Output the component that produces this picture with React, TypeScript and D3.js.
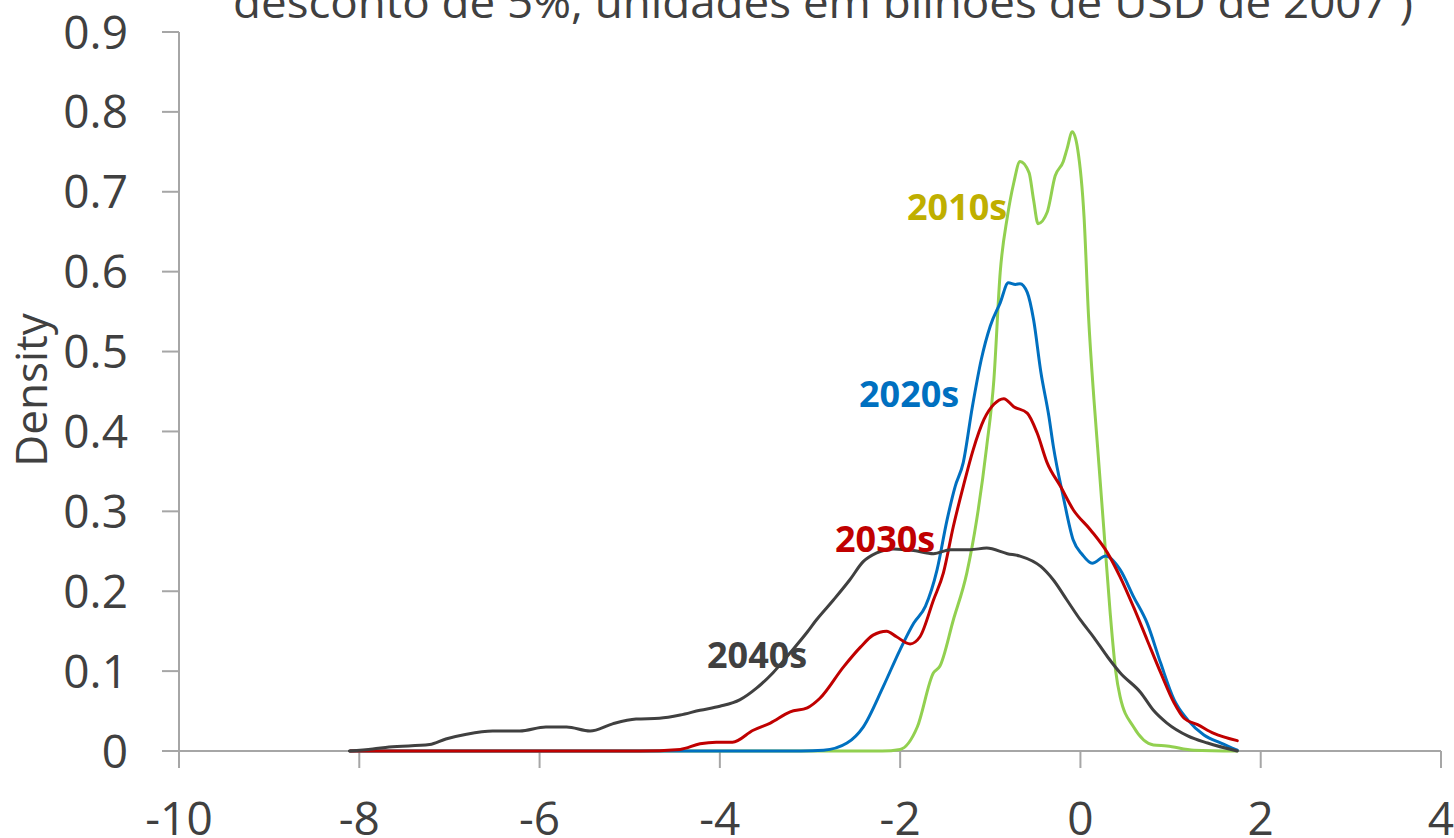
import React from "react";
import * as d3 from "d3";

const W = 1454;
const H = 838;

const titleText = "desconto de 5%, unidades em bilhões de USD de 2007 )";
const yLabel = "Density";
const xTicks = [-10, -8, -6, -4, -2, 0, 2, 4];
const yTicks = [0, 0.1, 0.2, 0.3, 0.4, 0.5, 0.6, 0.7, 0.8, 0.9];

const x2010s = [-8.1, -2.9, -2.2, -2.0, -1.81, -1.63, -1.56, -1.41, -1.26, -1.15, -1.04, -0.96, -0.89, -0.81, -0.74, -0.67, -0.57, -0.52, -0.47, -0.37, -0.28, -0.19, -0.15, -0.09, -0.03, 0.04, 0.09, 0.15, 0.19, 0.26, 0.33, 0.39, 0.44, 0.59, 0.81, 0.96, 1.26, 1.74];
const y2010s = [0, 0, 0, 0.002, 0.03, 0.098, 0.106, 0.164, 0.223, 0.29, 0.381, 0.465, 0.599, 0.669, 0.711, 0.738, 0.724, 0.69, 0.66, 0.674, 0.72, 0.738, 0.753, 0.775, 0.753, 0.669, 0.544, 0.44, 0.381, 0.277, 0.173, 0.101, 0.068, 0.03, 0.0075, 0.0063, 0.001, 0];

const x2020s = [-8.1, -3.1, -2.85, -2.59, -2.41, -2.19, -2.0, -1.85, -1.72, -1.59, -1.48, -1.39, -1.3, -1.2, -1.1, -1.0, -0.89, -0.8, -0.72, -0.67, -0.59, -0.52, -0.44, -0.35, -0.3, -0.19, -0.08, 0.02, 0.13, 0.28, 0.44, 0.59, 0.74, 0.89, 1.04, 1.19, 1.37, 1.56, 1.74];
const y2020s = [0, 0, 0.001, 0.01, 0.03, 0.08, 0.127, 0.16, 0.181, 0.227, 0.289, 0.331, 0.361, 0.43, 0.49, 0.532, 0.561, 0.586, 0.584, 0.585, 0.574, 0.54, 0.475, 0.419, 0.381, 0.318, 0.264, 0.246, 0.235, 0.244, 0.227, 0.193, 0.16, 0.11, 0.064, 0.039, 0.02, 0.01, 0.001];

const x2030s = [-8.1, -4.89, -4.44, -4.22, -4.04, -3.86, -3.63, -3.44, -3.22, -3.03, -2.89, -2.63, -2.44, -2.3, -2.15, -2.04, -1.89, -1.78, -1.63, -1.52, -1.41, -1.3, -1.19, -1.07, -0.96, -0.85, -0.74, -0.59, -0.48, -0.37, -0.22, -0.08, 0.11, 0.3, 0.44, 0.59, 0.74, 0.89, 1.04, 1.15, 1.3, 1.48, 1.74];
const y2030s = [0, 0, 0.002, 0.009, 0.011, 0.011, 0.026, 0.035, 0.049, 0.054, 0.066, 0.105, 0.13, 0.145, 0.15, 0.143, 0.134, 0.143, 0.189, 0.223, 0.281, 0.331, 0.377, 0.415, 0.434, 0.441, 0.431, 0.423, 0.398, 0.361, 0.331, 0.302, 0.277, 0.248, 0.218, 0.18, 0.139, 0.098, 0.06, 0.041, 0.033, 0.022, 0.013];

const x2040s = [-8.11, -7.85, -7.67, -7.22, -7.04, -6.81, -6.52, -6.22, -5.93, -5.7, -5.44, -5.19, -4.93, -4.67, -4.44, -4.22, -4.0, -3.78, -3.59, -3.41, -3.22, -3.03, -2.93, -2.74, -2.56, -2.41, -2.26, -2.07, -1.85, -1.63, -1.44, -1.22, -1.04, -0.81, -0.67, -0.44, -0.3, -0.15, 0.0, 0.15, 0.3, 0.44, 0.67, 0.81, 0.96, 1.19, 1.41, 1.74];
const y2040s = [0, 0.0025, 0.005, 0.008, 0.015, 0.021, 0.025, 0.025, 0.03, 0.03, 0.025, 0.034, 0.04, 0.041, 0.045, 0.051, 0.056, 0.064, 0.079, 0.098, 0.123, 0.149, 0.164, 0.189, 0.214, 0.237, 0.248, 0.253, 0.251, 0.247, 0.252, 0.252, 0.254, 0.247, 0.244, 0.231, 0.214, 0.189, 0.164, 0.142, 0.118, 0.098, 0.073, 0.051, 0.035, 0.019, 0.01, 0];

const seriesNames = ["2010s", "2020s", "2030s", "2040s"];
const seriesX = [x2010s, x2020s, x2030s, x2040s];
const seriesY = [y2010s, y2020s, y2030s, y2040s];
const lineColors = ["#92D050", "#0070C0", "#C00000", "#404040"];
const labelColors = ["#BFAF00", "#0070C0", "#C00000", "#404040"];
const labelPos = [
  { x: 907, y: 220 },
  { x: 859, y: 407 },
  { x: 835, y: 552 },
  { x: 707, y: 668 },
];

const FONT = "'Open Sans', 'Noto Sans', sans-serif";
const TEXT = "#404040";
const AXIS = "#A6A6A6";

export default function App() {
  const x = d3.scaleLinear().domain([-10, 4]).range([179, 1441]);
  const y = d3.scaleLinear().domain([0, 0.9]).range([751, 32]);

  const line = d3
    .line<[number, number]>()
    .x((d) => x(d[0]))
    .y((d) => y(d[1]))
    .curve(d3.curveMonotoneX);

  return (
    <svg
      width={W}
      height={H}
      style={{ position: "absolute", left: 0, top: 0, background: "#fff" }}
      fontFamily={FONT}
    >
      <rect x={0} y={0} width={W} height={H} fill="#fff" />
      <text
        x={233}
        y={18}
        fontSize={44}
        fill={TEXT}
        textLength={1180}
        lengthAdjust="spacingAndGlyphs"
      >
        {titleText}
      </text>

      {/* y axis */}
      <line x1={x(-10)} x2={x(-10)} y1={y(0)} y2={y(0.9)} stroke={AXIS} strokeWidth={2} />
      {yTicks.map((t) => (
        <g key={"yt" + t}>
          <line x1={162} x2={x(-10)} y1={y(t)} y2={y(t)} stroke={AXIS} strokeWidth={2} />
          <text x={128} y={y(t) + 16.5} textAnchor="end" fontSize={46} fill={TEXT}>
            {d3.format(".1~f")(t)}
          </text>
        </g>
      ))}

      {/* x axis */}
      <line x1={x(-10)} x2={x(4)} y1={y(0)} y2={y(0)} stroke={AXIS} strokeWidth={2} />
      {xTicks.map((t) => (
        <g key={"xt" + t}>
          <line x1={x(t)} x2={x(t)} y1={y(0)} y2={768} stroke={AXIS} strokeWidth={2} />
          <text x={x(t)} y={835} textAnchor="middle" fontSize={46} fill={TEXT}>
            {t}
          </text>
        </g>
      ))}

      <text
        transform="translate(47,390) rotate(-90)"
        textAnchor="middle"
        fontSize={44}
        fill={TEXT}
      >
        {yLabel}
      </text>

      {seriesNames.map((name, i) => {
        const pts: [number, number][] = seriesX[i].map((v, j) => [v, seriesY[i][j]]);
        return (
          <path
            key={name}
            d={line(pts) || ""}
            fill="none"
            stroke={lineColors[i]}
            strokeWidth={3}
            strokeLinejoin="round"
            strokeLinecap="round"
          />
        );
      })}

      {seriesNames.map((name, i) => (
        <text
          key={"lab" + name}
          x={labelPos[i].x}
          y={labelPos[i].y}
          fontSize={36}
          fontWeight="bold"
          fill={labelColors[i]}
        >
          {name}
        </text>
      ))}
    </svg>
  );
}
